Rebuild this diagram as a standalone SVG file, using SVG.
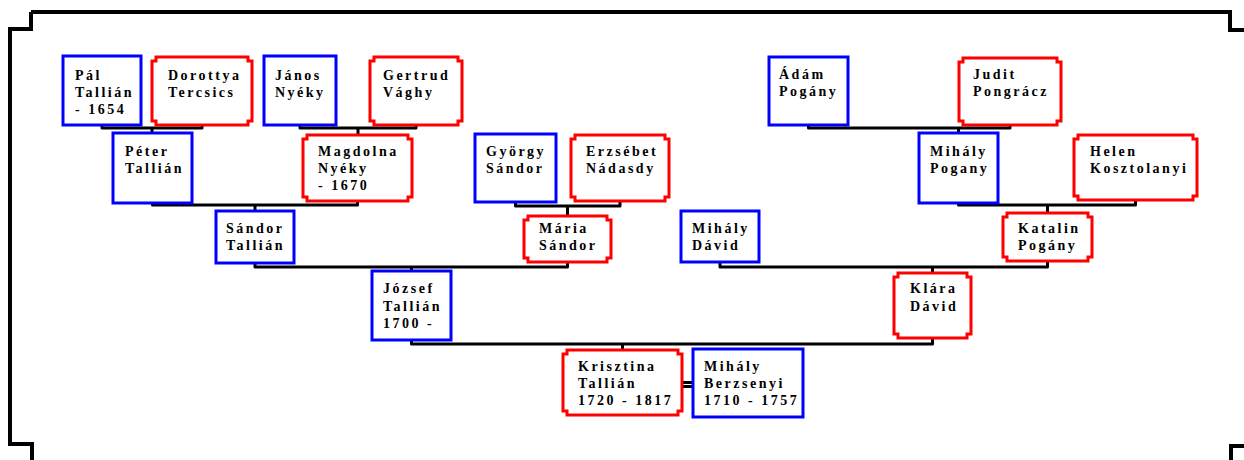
<svg xmlns="http://www.w3.org/2000/svg" width="1244" height="460" viewBox="0 0 1244 460">
  <style>
    .m { fill: #fff; stroke: #0000ff; stroke-width: 3; }
    .f { fill: #fff; stroke: #ff0000; stroke-width: 3; }
    .lbl { font-family: "Liberation Serif", "Times New Roman", serif; font-weight: bold; font-size: 14px; letter-spacing: 2.5px; fill: #000; }
    .link { fill: none; stroke: #000; stroke-width: 3; stroke-linejoin: round; }
    .frame { fill: none; stroke: #000; stroke-width: 4; }
  </style>

  <!-- page frame with stepped corners -->
  <g id="frame">
    <path class="frame" d="M 31 12 H 1230 V 30 H 1244"/>
    <path class="frame" d="M 31 12 V 29 H 10 V 444 H 32 V 460"/>
    <path class="frame" d="M 1244 446 H 1231 V 460"/>
  </g>

  <!-- parent-child connectors -->
  <g id="connectors">
    <path class="link" d="M 102 125 V 128 H 202 V 125 M 152 128 V 133"/>
    <path class="link" d="M 300 125 V 128 H 416 V 125 M 358 128 V 135"/>
    <path class="link" d="M 152.5 203 V 205 H 357.5 V 201 M 255 205 V 211"/>
    <path class="link" d="M 515.5 202 V 206 H 620 V 201 M 567.5 206 V 216"/>
    <path class="link" d="M 255 263 V 267 H 567.5 V 262 M 411.5 267 V 271"/>
    <path class="link" d="M 808.5 125 V 128 H 1010 V 125 M 958.5 128 V 133"/>
    <path class="link" d="M 958.5 203 V 205 H 1135.5 V 200 M 1047.5 205 V 213"/>
    <path class="link" d="M 720 262 V 267 H 1047.5 V 261 M 932.5 267 V 273"/>
    <path class="link" d="M 411.5 340 V 344 H 932.5 V 338 M 622.5 344 V 350"/>
    <!-- marriage link -->
    <path class="link" stroke-width="2" d="M 682 382.5 H 693 M 682 386.5 H 693"/>
  </g>

  <!-- generation 5 -->
  <g id="pal-tallian">
    <rect class="m" x="63" y="56" width="78" height="69"/>
    <text class="lbl" x="75" y="80"><tspan x="75">Pál</tspan><tspan x="75" dy="17">Tallián</tspan><tspan x="75" dy="17">- 1654</tspan></text>
  </g>
  <g id="dorottya-tercsics">
    <path class="f" d="M 156 57 H 248 V 61 H 252 V 121 H 248 V 125 H 156 V 121 H 152 V 61 H 156 Z"/>
    <text class="lbl" x="168" y="80"><tspan x="168">Dorottya</tspan><tspan x="168" dy="17">Tercsics</tspan></text>
  </g>
  <g id="janos-nyeky">
    <rect class="m" x="264" y="56" width="72" height="69"/>
    <text class="lbl" x="275" y="80"><tspan x="275">János</tspan><tspan x="275" dy="17">Nyéky</tspan></text>
  </g>
  <g id="gertrud-vaghy">
    <path class="f" d="M 374 57 H 458 V 61 H 462 V 121 H 458 V 125 H 374 V 121 H 370 V 61 H 374 Z"/>
    <text class="lbl" x="383" y="80"><tspan x="383">Gertrud</tspan><tspan x="383" dy="17">Vághy</tspan></text>
  </g>
  <g id="adam-pogany">
    <rect class="m" x="769" y="57" width="79" height="68"/>
    <text class="lbl" x="779" y="79"><tspan x="779">Ádám</tspan><tspan x="779" dy="17">Pogány</tspan></text>
  </g>
  <g id="judit-pongracz">
    <path class="f" d="M 963 58 H 1057 V 62 H 1061 V 121 H 1057 V 125 H 963 V 121 H 959 V 62 H 963 Z"/>
    <text class="lbl" x="973" y="79"><tspan x="973">Judit</tspan><tspan x="973" dy="17">Pongrácz</tspan></text>
  </g>

  <!-- generation 4 -->
  <g id="peter-tallian">
    <rect class="m" x="113" y="133" width="79" height="70"/>
    <text class="lbl" x="125" y="156"><tspan x="125">Péter</tspan><tspan x="125" dy="17">Tallián</tspan></text>
  </g>
  <g id="magdolna-nyeky">
    <path class="f" d="M 307 135 H 408 V 139 H 412 V 197 H 408 V 201 H 307 V 197 H 303 V 139 H 307 Z"/>
    <text class="lbl" x="318" y="156"><tspan x="318">Magdolna</tspan><tspan x="318" dy="17">Nyéky</tspan><tspan x="318" dy="17">- 1670</tspan></text>
  </g>
  <g id="gyorgy-sandor">
    <rect class="m" x="475" y="134" width="81" height="68"/>
    <text class="lbl" x="486" y="156"><tspan x="486">György</tspan><tspan x="486" dy="17">Sándor</tspan></text>
  </g>
  <g id="erzsebet-nadasdy">
    <path class="f" d="M 575 135 H 665 V 139 H 669 V 197 H 665 V 201 H 575 V 197 H 571 V 139 H 575 Z"/>
    <text class="lbl" x="586" y="156"><tspan x="586">Erzsébet</tspan><tspan x="586" dy="17">Nádasdy</tspan></text>
  </g>
  <g id="mihaly-pogany">
    <rect class="m" x="919" y="133" width="79" height="70"/>
    <text class="lbl" x="930" y="156"><tspan x="930">Mihály</tspan><tspan x="930" dy="17">Pogany</tspan></text>
  </g>
  <g id="helen-kosztolanyi">
    <path class="f" d="M 1078 135 H 1193 V 139 H 1197 V 196 H 1193 V 200 H 1078 V 196 H 1074 V 139 H 1078 Z"/>
    <text class="lbl" x="1090" y="156"><tspan x="1090">Helen</tspan><tspan x="1090" dy="17">Kosztolanyi</tspan></text>
  </g>

  <!-- generation 3 -->
  <g id="sandor-tallian">
    <rect class="m" x="216" y="211" width="78" height="52"/>
    <text class="lbl" x="226" y="233"><tspan x="226">Sándor</tspan><tspan x="226" dy="17">Tallián</tspan></text>
  </g>
  <g id="maria-sandor">
    <path class="f" d="M 528 216 H 607 V 220 H 611 V 258 H 607 V 262 H 528 V 258 H 524 V 220 H 528 Z"/>
    <text class="lbl" x="539" y="233"><tspan x="539">Mária</tspan><tspan x="539" dy="17">Sándor</tspan></text>
  </g>
  <g id="mihaly-david">
    <rect class="m" x="681" y="211" width="78" height="51"/>
    <text class="lbl" x="692" y="233"><tspan x="692">Mihály</tspan><tspan x="692" dy="17">Dávid</tspan></text>
  </g>
  <g id="katalin-pogany">
    <path class="f" d="M 1007 213 H 1088 V 217 H 1092 V 257 H 1088 V 261 H 1007 V 257 H 1003 V 217 H 1007 Z"/>
    <text class="lbl" x="1018" y="233"><tspan x="1018">Katalin</tspan><tspan x="1018" dy="17">Pogány</tspan></text>
  </g>

  <!-- generation 2 -->
  <g id="jozsef-tallian">
    <rect class="m" x="372" y="271" width="79" height="69"/>
    <text class="lbl" x="383" y="293"><tspan x="383">József</tspan><tspan x="383" dy="17.5">Tallián</tspan><tspan x="383" dy="17">1700 -</tspan></text>
  </g>
  <g id="klara-david">
    <path class="f" d="M 898 273 H 967 V 277 H 971 V 334 H 967 V 338 H 898 V 334 H 894 V 277 H 898 Z"/>
    <text class="lbl" x="910" y="293"><tspan x="910">Klára</tspan><tspan x="910" dy="18">Dávid</tspan></text>
  </g>

  <!-- generation 1 -->
  <g id="krisztina-tallian">
    <path class="f" d="M 567 350 H 678 V 354 H 682 V 411 H 678 V 415 H 567 V 411 H 563 V 354 H 567 Z"/>
    <text class="lbl" x="578" y="371"><tspan x="578">Krisztina</tspan><tspan x="578" dy="17">Tallián</tspan><tspan x="578" dy="17">1720 - 1817</tspan></text>
  </g>
  <g id="mihaly-berzsenyi">
    <rect class="m" x="693" y="349" width="110" height="68"/>
    <text class="lbl" x="704" y="371"><tspan x="704">Mihály</tspan><tspan x="704" dy="17">Berzsenyi</tspan><tspan x="704" dy="17">1710 - 1757</tspan></text>
  </g>
</svg>
